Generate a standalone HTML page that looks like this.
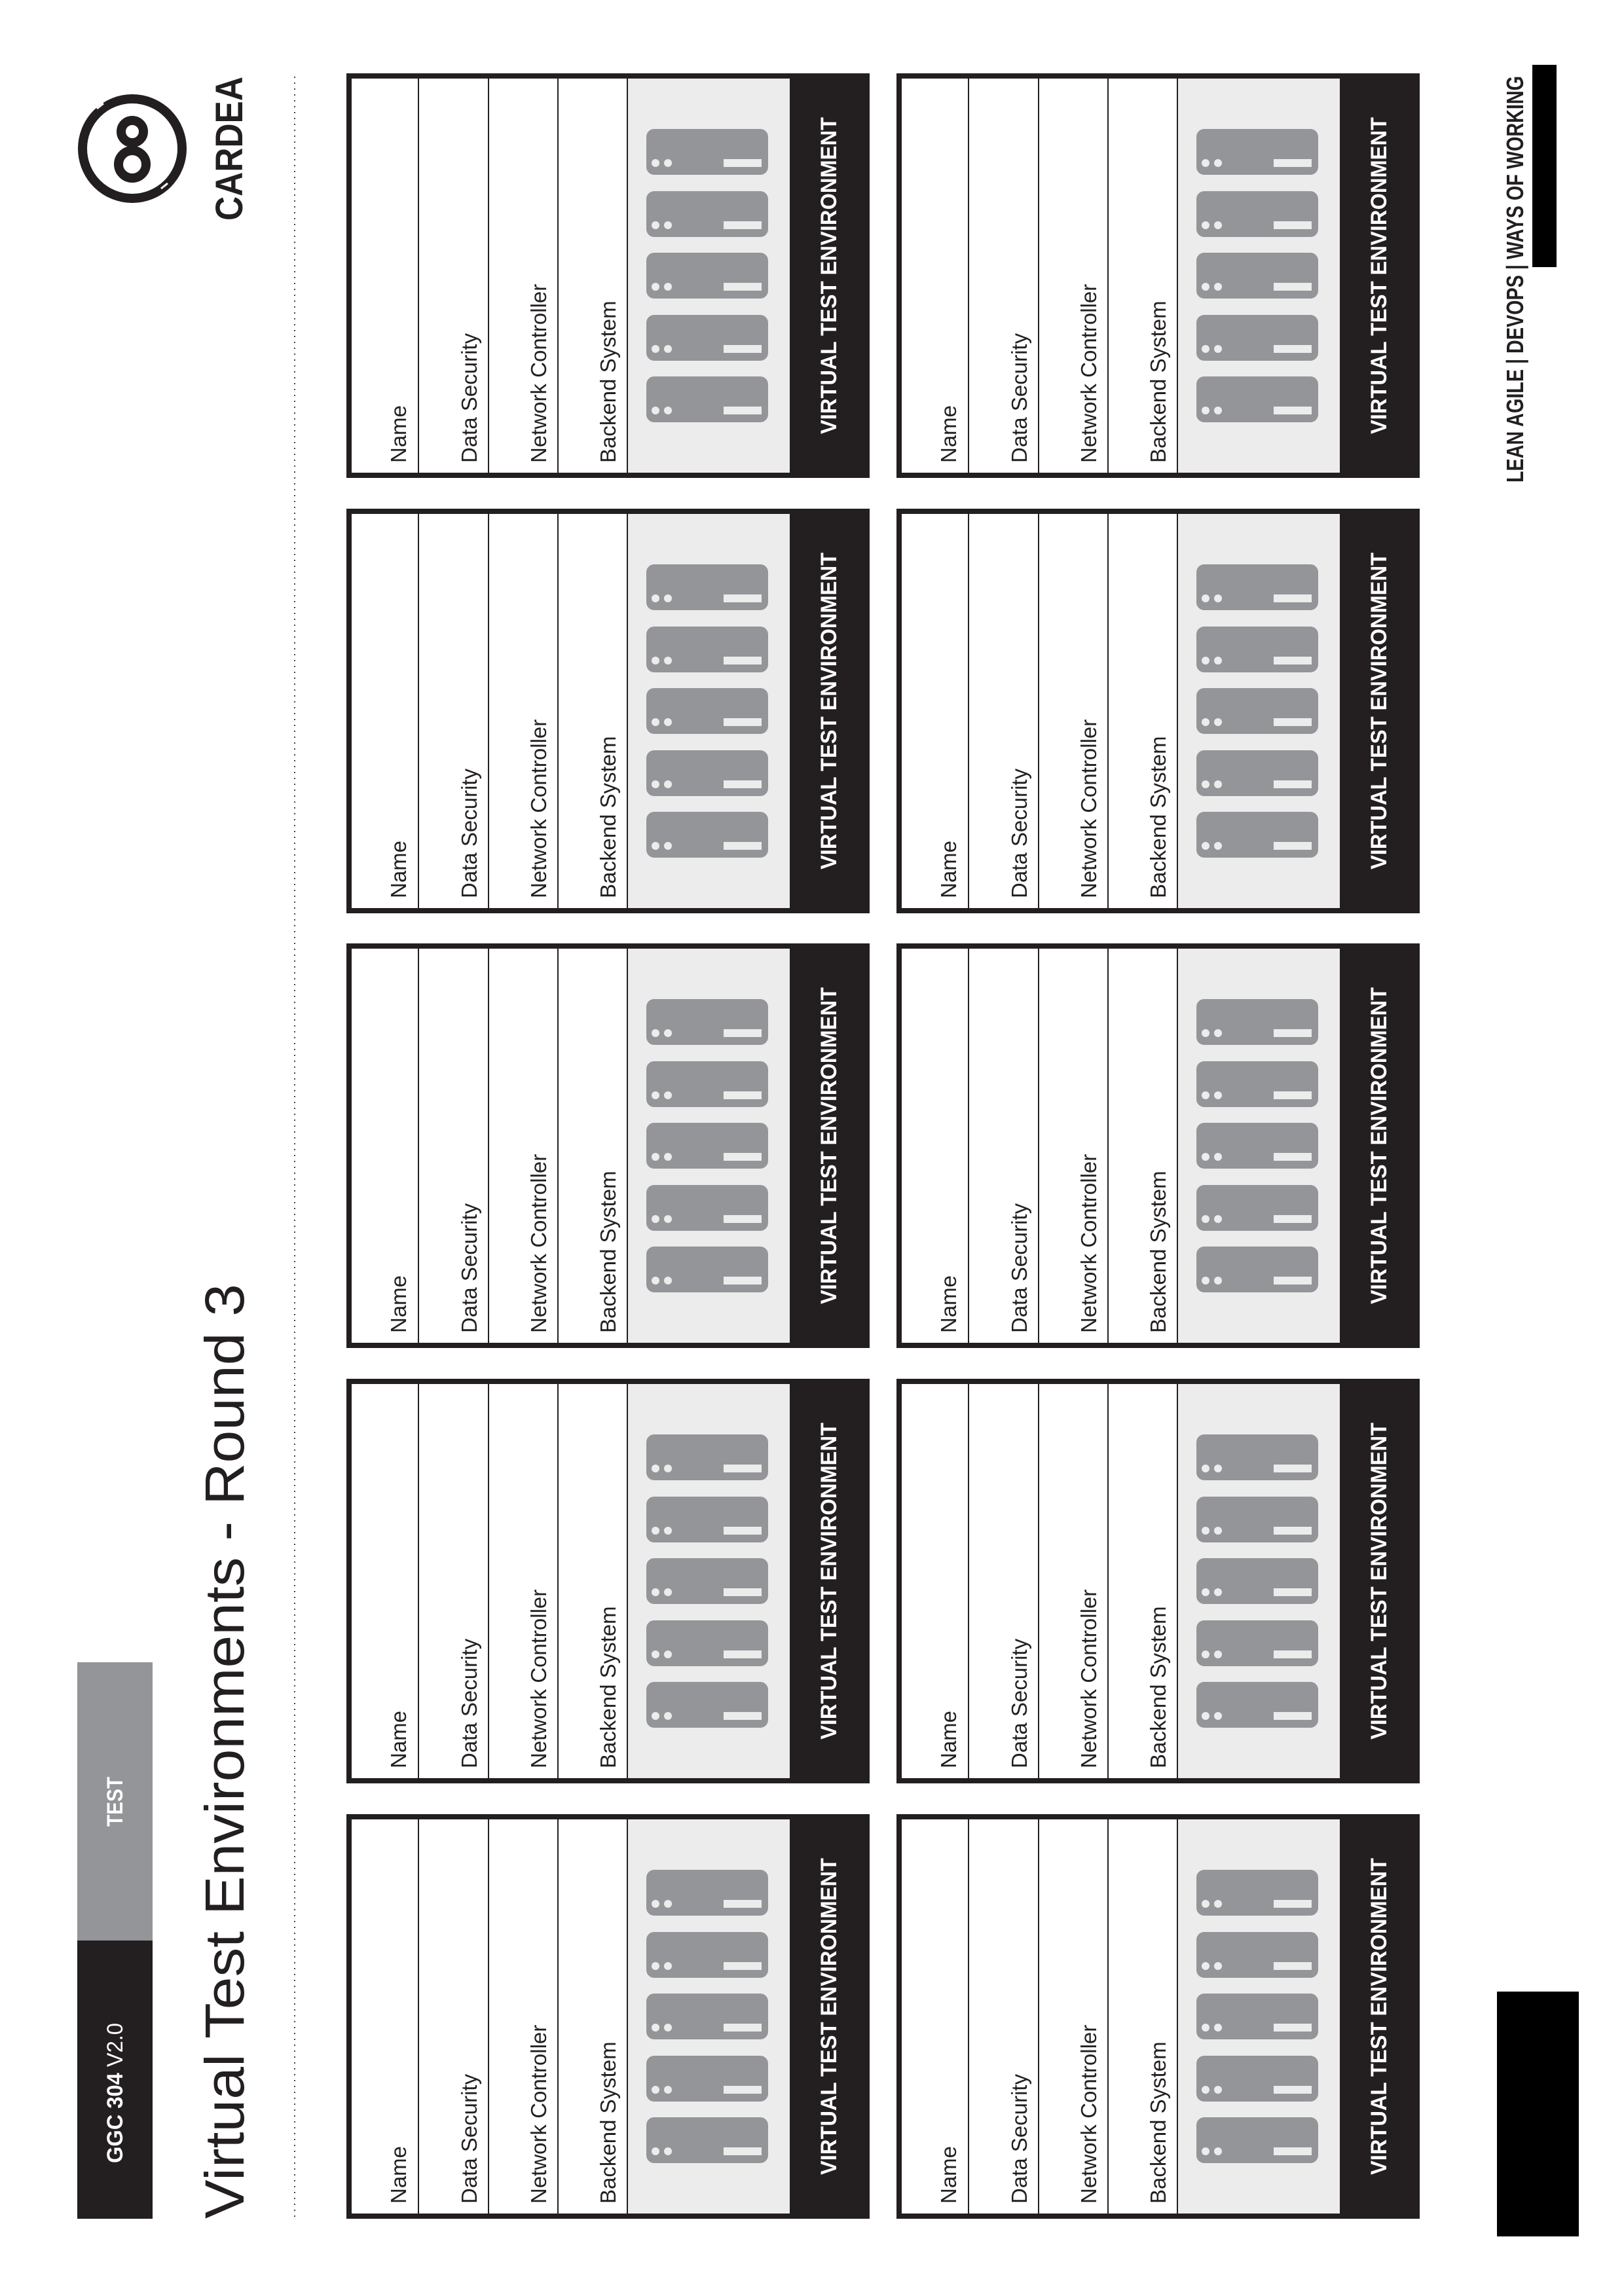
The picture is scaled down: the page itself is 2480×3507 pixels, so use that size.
<!DOCTYPE html>
<html><head><meta charset="utf-8"><style>
html,body{margin:0;padding:0;background:#fff;}
svg{display:block;}
.lb{font-family:"Liberation Sans",sans-serif;font-size:33px;fill:#231f20;}
.bd{font-family:"Liberation Sans",sans-serif;font-size:34px;font-weight:bold;fill:#fff;}
</style></head><body>
<svg width="2480" height="3507" viewBox="0 0 2480 3507" xmlns="http://www.w3.org/2000/svg">
<defs>
<g id="srv">
<rect x="458" y="0" width="186" height="70" rx="12" fill="#939598"/>
<circle cx="472" cy="52" r="6" fill="#ececec"/>
<circle cx="491" cy="52" r="6" fill="#ececec"/>
<rect x="576" y="46" width="58" height="12" fill="#ececec"/>
</g>
<g id="card">
<rect x="0" y="0" width="799" height="618" fill="#231f20"/>
<rect x="8" y="8" width="669" height="602" fill="#fff"/>
<rect x="429" y="8" width="248" height="602" fill="#ececec"/>
<rect x="109" y="8" width="2" height="602" fill="#231f20"/>
<rect x="216" y="8" width="2" height="602" fill="#231f20"/>
<rect x="322" y="8" width="2" height="602" fill="#231f20"/>
<rect x="428" y="8" width="2" height="602" fill="#231f20"/>
<use href="#srv" y="85"/>
<use href="#srv" y="180"/>
<use href="#srv" y="274"/>
<use href="#srv" y="369"/>
<use href="#srv" y="463"/>
</g>
</defs>

<!-- header bar -->
<rect x="118" y="2539" width="115" height="425" fill="#939598"/>
<rect x="118" y="2964" width="115" height="425" fill="#231f20"/>
<text transform="translate(187,3304) rotate(-90)" font-family="'Liberation Sans Narrow','Liberation Sans',sans-serif" font-size="34" fill="#fff" textLength="214" lengthAdjust="spacingAndGlyphs"><tspan font-weight="bold">GGC 304</tspan> V2.0</text>
<text transform="translate(187,2790) rotate(-90)" font-family="'Liberation Sans Narrow','Liberation Sans',sans-serif" font-size="34" font-weight="bold" fill="#fff" textLength="76" lengthAdjust="spacingAndGlyphs">TEST</text>

<!-- title -->
<text transform="translate(372,3389) rotate(-90)" font-family="'Liberation Sans',sans-serif" font-size="84" fill="#231f20" textLength="1428" lengthAdjust="spacingAndGlyphs">Virtual Test Environments - Round 3</text>

<!-- dotted line -->
<line x1="450" y1="117" x2="450" y2="3388" stroke="#444" stroke-width="2" stroke-dasharray="2 7"/>

<!-- logo -->
<circle cx="202" cy="227" r="76" fill="none" stroke="#231f20" stroke-width="14"/>
<line x1="148" y1="166" x2="158" y2="158" stroke="#fff" stroke-width="3"/>
<line x1="246" y1="288" x2="256" y2="280" stroke="#fff" stroke-width="3"/>
<circle cx="202" cy="201" r="17" fill="none" stroke="#231f20" stroke-width="14"/>
<circle cx="202" cy="251" r="21" fill="none" stroke="#231f20" stroke-width="14"/>
<text transform="translate(370,337) rotate(-90)" font-family="'Liberation Sans Narrow','Liberation Sans',sans-serif" font-size="58" font-weight="bold" fill="#231f20" textLength="220" lengthAdjust="spacingAndGlyphs">CARDEA</text>

<!-- footer -->
<text transform="translate(2326,737) rotate(-90)" font-family="'Liberation Sans Narrow','Liberation Sans',sans-serif" font-size="36" font-weight="bold" fill="#231f20" textLength="621" lengthAdjust="spacingAndGlyphs">LEAN AGILE | DEVOPS | WAYS OF WORKING</text>
<rect x="2340" y="99" width="37" height="309" fill="#000"/>
<rect x="2286" y="3042" width="125" height="374" fill="#000"/>

<!-- cards -->
<g transform="translate(529,112)"><use href="#card"/>
<text class="lb" transform="translate(91,595) rotate(-90)">Name</text>
<text class="lb" transform="translate(199,595) rotate(-90)">Data Security</text>
<text class="lb" transform="translate(305,595) rotate(-90)">Network Controller</text>
<text class="lb" transform="translate(411,595) rotate(-90)">Backend System</text>
<text class="bd" text-anchor="middle" transform="translate(748,309) rotate(-90)" textLength="484" lengthAdjust="spacingAndGlyphs">VIRTUAL TEST ENVIRONMENT</text></g>

<g transform="translate(529,777)"><use href="#card"/>
<text class="lb" transform="translate(91,595) rotate(-90)">Name</text>
<text class="lb" transform="translate(199,595) rotate(-90)">Data Security</text>
<text class="lb" transform="translate(305,595) rotate(-90)">Network Controller</text>
<text class="lb" transform="translate(411,595) rotate(-90)">Backend System</text>
<text class="bd" text-anchor="middle" transform="translate(748,309) rotate(-90)" textLength="484" lengthAdjust="spacingAndGlyphs">VIRTUAL TEST ENVIRONMENT</text></g>

<g transform="translate(529,1441)"><use href="#card"/>
<text class="lb" transform="translate(91,595) rotate(-90)">Name</text>
<text class="lb" transform="translate(199,595) rotate(-90)">Data Security</text>
<text class="lb" transform="translate(305,595) rotate(-90)">Network Controller</text>
<text class="lb" transform="translate(411,595) rotate(-90)">Backend System</text>
<text class="bd" text-anchor="middle" transform="translate(748,309) rotate(-90)" textLength="484" lengthAdjust="spacingAndGlyphs">VIRTUAL TEST ENVIRONMENT</text></g>

<g transform="translate(529,2106)"><use href="#card"/>
<text class="lb" transform="translate(91,595) rotate(-90)">Name</text>
<text class="lb" transform="translate(199,595) rotate(-90)">Data Security</text>
<text class="lb" transform="translate(305,595) rotate(-90)">Network Controller</text>
<text class="lb" transform="translate(411,595) rotate(-90)">Backend System</text>
<text class="bd" text-anchor="middle" transform="translate(748,309) rotate(-90)" textLength="484" lengthAdjust="spacingAndGlyphs">VIRTUAL TEST ENVIRONMENT</text></g>

<g transform="translate(529,2771)"><use href="#card"/>
<text class="lb" transform="translate(91,595) rotate(-90)">Name</text>
<text class="lb" transform="translate(199,595) rotate(-90)">Data Security</text>
<text class="lb" transform="translate(305,595) rotate(-90)">Network Controller</text>
<text class="lb" transform="translate(411,595) rotate(-90)">Backend System</text>
<text class="bd" text-anchor="middle" transform="translate(748,309) rotate(-90)" textLength="484" lengthAdjust="spacingAndGlyphs">VIRTUAL TEST ENVIRONMENT</text></g>

<g transform="translate(1369,112)"><use href="#card"/>
<text class="lb" transform="translate(91,595) rotate(-90)">Name</text>
<text class="lb" transform="translate(199,595) rotate(-90)">Data Security</text>
<text class="lb" transform="translate(305,595) rotate(-90)">Network Controller</text>
<text class="lb" transform="translate(411,595) rotate(-90)">Backend System</text>
<text class="bd" text-anchor="middle" transform="translate(748,309) rotate(-90)" textLength="484" lengthAdjust="spacingAndGlyphs">VIRTUAL TEST ENVIRONMENT</text></g>

<g transform="translate(1369,777)"><use href="#card"/>
<text class="lb" transform="translate(91,595) rotate(-90)">Name</text>
<text class="lb" transform="translate(199,595) rotate(-90)">Data Security</text>
<text class="lb" transform="translate(305,595) rotate(-90)">Network Controller</text>
<text class="lb" transform="translate(411,595) rotate(-90)">Backend System</text>
<text class="bd" text-anchor="middle" transform="translate(748,309) rotate(-90)" textLength="484" lengthAdjust="spacingAndGlyphs">VIRTUAL TEST ENVIRONMENT</text></g>

<g transform="translate(1369,1441)"><use href="#card"/>
<text class="lb" transform="translate(91,595) rotate(-90)">Name</text>
<text class="lb" transform="translate(199,595) rotate(-90)">Data Security</text>
<text class="lb" transform="translate(305,595) rotate(-90)">Network Controller</text>
<text class="lb" transform="translate(411,595) rotate(-90)">Backend System</text>
<text class="bd" text-anchor="middle" transform="translate(748,309) rotate(-90)" textLength="484" lengthAdjust="spacingAndGlyphs">VIRTUAL TEST ENVIRONMENT</text></g>

<g transform="translate(1369,2106)"><use href="#card"/>
<text class="lb" transform="translate(91,595) rotate(-90)">Name</text>
<text class="lb" transform="translate(199,595) rotate(-90)">Data Security</text>
<text class="lb" transform="translate(305,595) rotate(-90)">Network Controller</text>
<text class="lb" transform="translate(411,595) rotate(-90)">Backend System</text>
<text class="bd" text-anchor="middle" transform="translate(748,309) rotate(-90)" textLength="484" lengthAdjust="spacingAndGlyphs">VIRTUAL TEST ENVIRONMENT</text></g>

<g transform="translate(1369,2771)"><use href="#card"/>
<text class="lb" transform="translate(91,595) rotate(-90)">Name</text>
<text class="lb" transform="translate(199,595) rotate(-90)">Data Security</text>
<text class="lb" transform="translate(305,595) rotate(-90)">Network Controller</text>
<text class="lb" transform="translate(411,595) rotate(-90)">Backend System</text>
<text class="bd" text-anchor="middle" transform="translate(748,309) rotate(-90)" textLength="484" lengthAdjust="spacingAndGlyphs">VIRTUAL TEST ENVIRONMENT</text></g>
</svg>
</body></html>
